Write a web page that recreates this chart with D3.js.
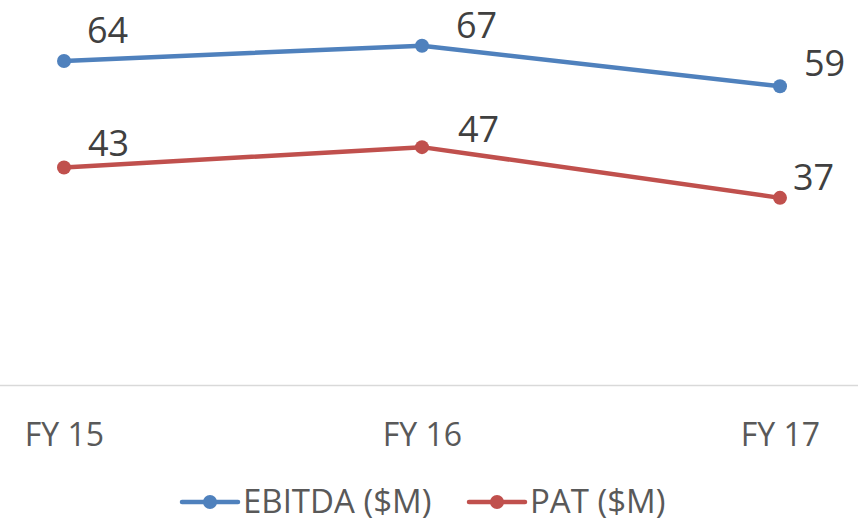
<!DOCTYPE html>
<html>
<head>
<meta charset="utf-8">
<script src="https://cdn.jsdelivr.net/npm/d3@7"></script>
<style>
  html, body { margin: 0; padding: 0; background: #ffffff; }
  svg { display: block; }
</style>
</head>
<body>
<svg id="chart" width="858" height="524"></svg>
<script>
// ---- data ----
const categories = ["FY 15", "FY 16", "FY 17"];
const ebitda = [64, 67, 59];
const pat = [43, 47, 37];
const seriesNames = ["EBITDA ($M)", "PAT ($M)"];
const seriesColors = ["#4F81BD", "#C0504D"];

// label nudges (dx, dy of text baseline relative to point), px
const ebitdaLabelNudge = [[23, -18], [34, -8], [24, -10]];
const patLabelNudge = [[24, -11], [36, -5], [13, -8]];

const W = 858, H = 524;
const svg = d3.select("#chart");

const x = d3.scalePoint().domain(categories).range([64, 780]);
const y = d3.scaleLinear().domain([0, 70]).range([385.5, 30.5]);

// axis line
svg.append("line")
  .attr("x1", 0).attr("x2", W)
  .attr("y1", y(0)).attr("y2", y(0))
  .attr("stroke", "#D9D9D9").attr("stroke-width", 1.5);

// x axis labels
const xAxis = svg.append("g")
  .attr("transform", `translate(0,${y(0)})`)
  .call(d3.axisBottom(x).tickSize(0).tickPadding(0));
xAxis.select(".domain").remove();
xAxis.selectAll("text")
  .attr("y", 60.5)
  .attr("dy", null)
  .attr("font-family", "'Open Sans', sans-serif")
  .attr("font-size", 32)
  .attr("fill", "#595959");

const series = [
  { name: seriesNames[0], values: ebitda, color: seriesColors[0], nudge: ebitdaLabelNudge },
  { name: seriesNames[1], values: pat, color: seriesColors[1], nudge: patLabelNudge }
];

const line = d3.line().x((d, i) => x(categories[i])).y(d => y(d));

series.forEach(s => {
  svg.append("path")
    .datum(s.values)
    .attr("d", line)
    .attr("fill", "none")
    .attr("stroke", s.color)
    .attr("stroke-width", 4.5)
    .attr("stroke-linejoin", "round");
  svg.selectAll(null)
    .data(s.values)
    .enter().append("circle")
    .attr("cx", (d, i) => x(categories[i]))
    .attr("cy", d => y(d))
    .attr("r", 7)
    .attr("fill", s.color);
  svg.selectAll(null)
    .data(s.values)
    .enter().append("text")
    .attr("x", (d, i) => x(categories[i]) + s.nudge[i][0])
    .attr("y", (d, i) => y(d) + s.nudge[i][1])
    .attr("font-family", "'Open Sans', sans-serif")
    .attr("font-size", 36)
    .attr("fill", "#404040")
    .text(d => d);
});

// legend
const legendItems = [
  { name: seriesNames[0], color: seriesColors[0], x0: 182 },
  { name: seriesNames[1], color: seriesColors[1], x0: 469 }
];
const ly = 502;
legendItems.forEach(it => {
  const g = svg.append("g");
  g.append("line")
    .attr("x1", it.x0).attr("x2", it.x0 + 56)
    .attr("y1", ly).attr("y2", ly)
    .attr("stroke", it.color).attr("stroke-width", 4.5)
    .attr("stroke-linecap", "round");
  g.append("circle")
    .attr("cx", it.x0 + 28).attr("cy", ly).attr("r", 7)
    .attr("fill", it.color);
  g.append("text")
    .attr("x", it.x0 + 61)
    .attr("y", 513)
    .attr("font-family", "'Open Sans', sans-serif")
    .attr("font-size", 33)
    .attr("fill", "#595959")
    .text(it.name);
});
</script>
</body>
</html>
